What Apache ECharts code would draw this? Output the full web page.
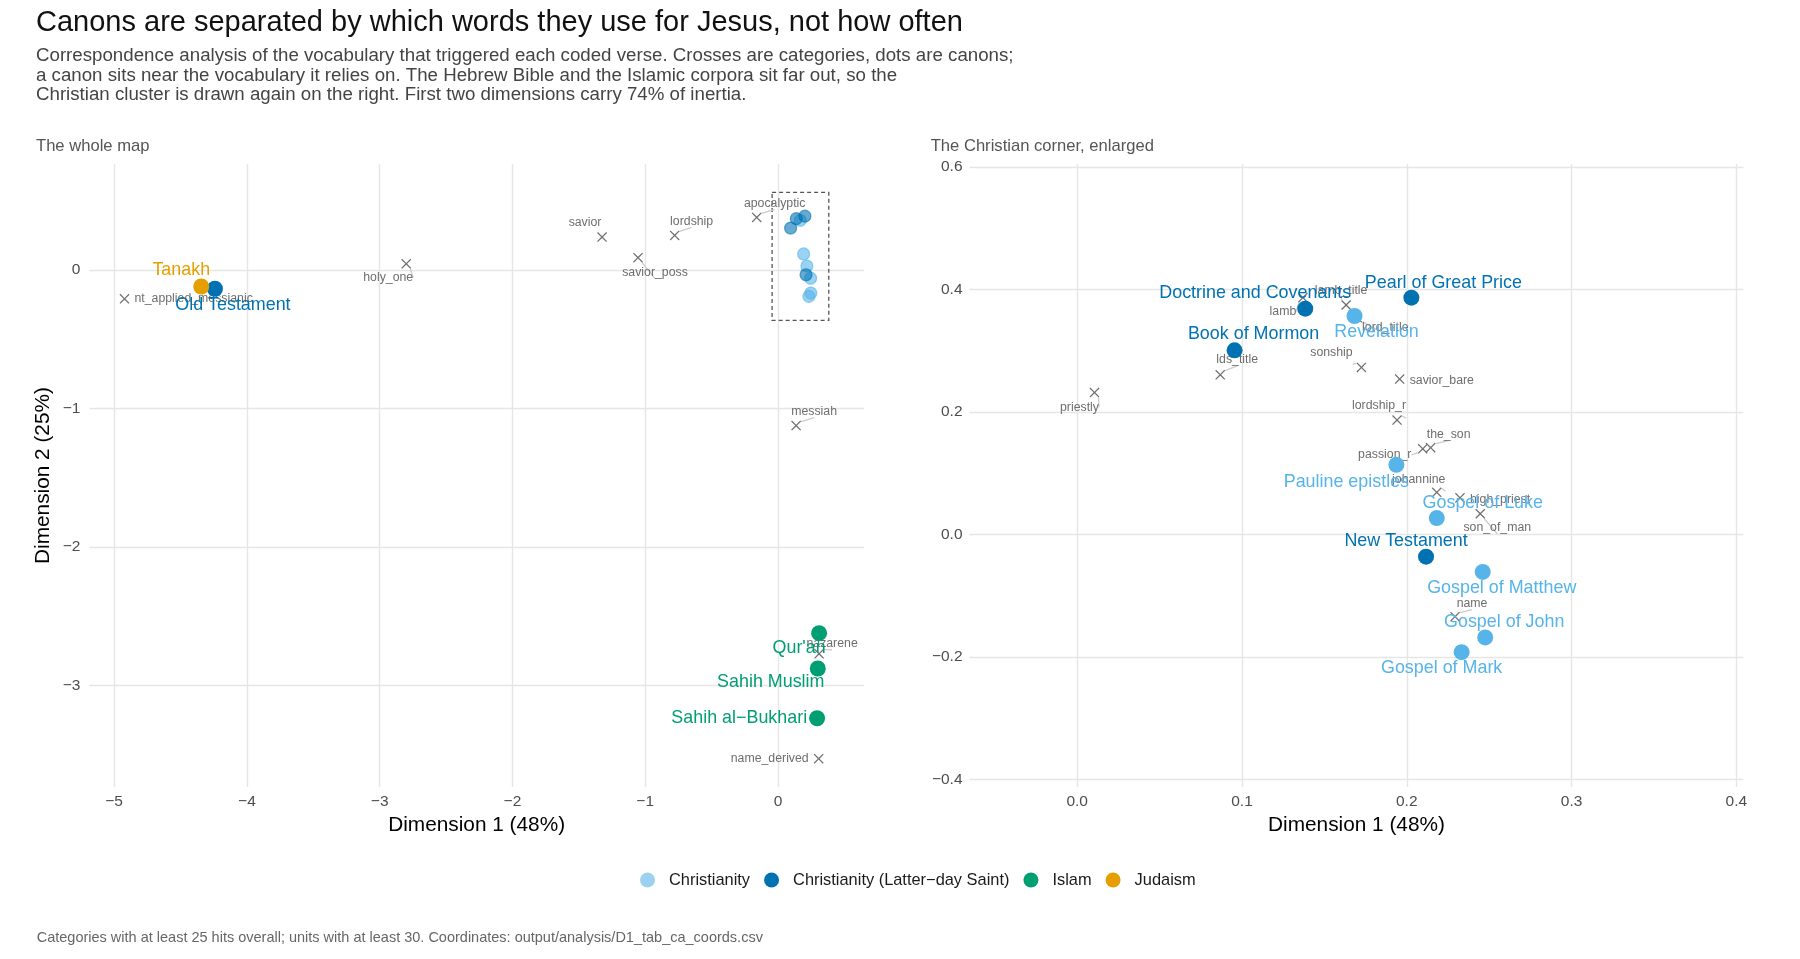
<!DOCTYPE html>
<html>
<head>
<meta charset="utf-8">
<title>Canons are separated by which words they use for Jesus</title>
<script src="https://cdn.jsdelivr.net/npm/echarts@6/dist/echarts.min.js"></script>
<style>
html, body { margin: 0; padding: 0; background: #fff; }
#chart { width: 1800px; height: 959px; }
</style>
</head>
<body>
<div id="chart"></div>
<script>
var FONT = '"Liberation Sans", Arial, Helvetica, sans-serif';

// canons (dots)
var canonNames = ['Tanakh', 'Old Testament', "Qur'an", 'Sahih Muslim', 'Sahih al\u2212Bukhari',
    'Pearl of Great Price', 'Doctrine and Covenants', 'Revelation', 'Book of Mormon',
    'Pauline epistles', 'Gospel of Luke', 'New Testament', 'Gospel of Matthew',
    'Gospel of John', 'Gospel of Mark'];
var canonGroups = ['Judaism', 'Christianity (Latter\u2212day Saint)', 'Islam', 'Islam', 'Islam',
    'Christianity (Latter\u2212day Saint)', 'Christianity (Latter\u2212day Saint)', 'Christianity',
    'Christianity (Latter\u2212day Saint)', 'Christianity', 'Christianity',
    'Christianity (Latter\u2212day Saint)', 'Christianity', 'Christianity', 'Christianity'];
var canonDim1 = [-4.344, -4.241, 0.310, 0.300, 0.295, 0.2028, 0.1384, 0.1683, 0.0955,
    0.1937, 0.2182, 0.2117, 0.2461, 0.2476, 0.2333];
var canonDim2 = [-0.121, -0.137, -2.623, -2.878, -3.237, 0.387, 0.369, 0.357, 0.301,
    0.114, 0.027, -0.036, -0.061, -0.168, -0.192];

// vocabulary categories (crosses)
var catNames = ['nt_applied_messianic', 'holy_one', 'savior', 'savior_poss', 'lordship',
    'apocalyptic', 'messiah', 'nazarene', 'name_derived',
    'lamb_title', 'lamb', 'lord_title', 'lds_title', 'sonship', 'savior_bare', 'priestly',
    'lordship_r', 'passion_r', 'the_son', 'johannine', 'high_priest', 'son_of_man', 'name'];
var catDim1 = [-4.922, -2.80, -1.325, -1.054, -0.778, -0.160, 0.137, 0.310, 0.307,
    0.1632, 0.137, 0.170, 0.0868, 0.1725, 0.1957, 0.0105,
    0.1941, 0.2097, 0.2145, 0.2182, 0.2323, 0.2446, 0.2293];
var catDim2 = [-0.210, 0.043, 0.236, 0.087, 0.248, 0.378, -1.125, -2.772, -3.529,
    0.375, 0.387, 0.354, 0.261, 0.273, 0.254, 0.232,
    0.187, 0.140, 0.142, 0.069, 0.060, 0.034, -0.134];

var groupNames = ['Christianity', 'Christianity (Latter\u2212day Saint)', 'Islam', 'Judaism'];
var groupColors = ['#56B4E9', '#0072B2', '#009E73', '#E69F00'];

// the Christian corner, dashed on the left and enlarged on the right
var cornerX = [-0.044, 0.383];
var cornerY = [-0.366, 0.559];

// where each label sits relative to its mark (px): [dx, dy] centred, or ['left'|'right', gap, dy]
var labelPlace = {
    'Tanakh': [-20, -16], 'Old Testament': [18, 16], "Qur'an": [-20, 15],
    'Sahih Muslim': [-47, 14], 'Sahih al\u2212Bukhari': ['left', 2, 0],
    'Pearl of Great Price': [32, -15], 'Doctrine and Covenants': [-50, -16],
    'Revelation': [22, 16], 'Book of Mormon': [19, -16], 'Pauline epistles': [-50, 17],
    'Gospel of Luke': [46, -15], 'New Testament': [-20, -16], 'Gospel of Matthew': [19, 16],
    'Gospel of John': [19, -15], 'Gospel of Mark': [-20, 16],
    'nt_applied_messianic': ['right', 5, 0], 'holy_one': [-18, 14], 'savior': [-17, -14],
    'savior_poss': [17, 15], 'lordship': [17, -14], 'apocalyptic': [18, -14],
    'messiah': [18, -14], 'nazarene': [13, -10], 'name_derived': ['left', 5, 0],
    'lamb_title': [-5, -14], 'lamb': [-20, 14], 'lord_title': [28, 10],
    'lds_title': [17, -15], 'sonship': [-30, -15], 'savior_bare': ['right', 5, 2],
    'priestly': [-15, 15], 'lordship_r': [-18, -14], 'passion_r': [-38, 6],
    'the_son': [18, -13], 'johannine': [-18, -13], 'high_priest': ['right', 5, 2],
    'son_of_man': [17, 14], 'name': [17, -13]
};

var CROSS = 'path://M0,0.9L0.9,0L5,4.1L9.1,0L10,0.9L5.9,5L10,9.1L9.1,10L5,5.9L0.9,10L0,9.1L4.1,5Z';

function inCorner(x, y) {
    return x >= cornerX[0] && x <= cornerX[1] && y >= cornerY[0] && y <= cornerY[1];
}
function expand(lo, hi) {
    var pad = (hi - lo) * 0.05;
    return [lo - pad, hi + pad];
}
function labelOf(name, size, color) {
    var p = labelPlace[name];
    var lab = { show: true, formatter: '{b}', fontSize: size, color: color, fontFamily: FONT };
    if (p[0] === 'left' || p[0] === 'right') {
        lab.position = p[0];
        lab.distance = p[1];
        lab.offset = [0, p[2]];
    } else {
        lab.position = 'inside';
        lab.offset = p;
    }
    return lab;
}
function tickFmt(dec) {
    return function (v) {
        var s = Math.abs(v).toFixed(dec);
        return (v < -1e-9 ? '\u2212' : '') + s;
    };
}

// limits: the whole map spans all marks plus the corner box, the right panel just the box
var leftX = expand(Math.min.apply(null, catDim1.concat(canonDim1, cornerX)),
    Math.max.apply(null, catDim1.concat(canonDim1, cornerX)));
var leftY = expand(Math.min.apply(null, catDim2.concat(canonDim2, cornerY)),
    Math.max.apply(null, catDim2.concat(canonDim2, cornerY)));
var rightX = expand(cornerX[0], cornerX[1]);
var rightY = expand(cornerY[0], cornerY[1]);

// repel-style leader from a cross to its label
var leader = { show: true, length2: 0, lineStyle: { color: '#cccccc', width: 1.3 } };

var crossLeft = [], crossRight = [];
for (var i = 0; i < catNames.length; i++) {
    var item = { name: catNames[i], value: [catDim1[i], catDim2[i]],
        label: labelOf(catNames[i], 12.3, '#6e6e6e') };
    if (typeof labelPlace[catNames[i]][0] === 'number') item.labelLine = leader;
    if (inCorner(catDim1[i], catDim2[i])) crossRight.push(item);
    else crossLeft.push(item);
}

var series = [];
var crossStyle = { color: '#707070', opacity: 1 };
series.push({
    type: 'scatter', name: 'categories', xAxisIndex: 0, yAxisIndex: 0,
    symbol: CROSS, symbolSize: 10, itemStyle: crossStyle, z: 2,
    data: crossLeft,
    markArea: {
        silent: true,
        label: { show: false },
        itemStyle: { color: 'rgba(0,0,0,0)', borderColor: '#555', borderWidth: 1.3, borderType: [4, 3] },
        data: [[{ coord: [cornerX[0], cornerY[1]] }, { coord: [cornerX[1], cornerY[0]] }]]
    }
});
series.push({
    type: 'scatter', name: 'categories2', xAxisIndex: 1, yAxisIndex: 1,
    symbol: CROSS, symbolSize: 10, itemStyle: crossStyle, z: 2,
    data: crossRight
});

groupNames.forEach(function (g, gi) {
    var col = groupColors[gi];
    var left = [], right = [];
    for (var i = 0; i < canonNames.length; i++) {
        if (canonGroups[i] !== g) continue;
        var x = canonDim1[i], y = canonDim2[i];
        if (inCorner(x, y)) {
            left.push({ name: canonNames[i], value: [x, y], symbolSize: 12,
                itemStyle: { color: col, opacity: 0.6, borderColor: col, borderWidth: 1.2 } });
            right.push({ name: canonNames[i], value: [x, y],
                label: labelOf(canonNames[i], 17.9, col) });
        } else {
            left.push({ name: canonNames[i], value: [x, y],
                label: labelOf(canonNames[i], 17.9, col) });
        }
    }
    series.push({
        type: 'scatter', name: g, xAxisIndex: 0, yAxisIndex: 0,
        symbol: 'circle', symbolSize: 16, itemStyle: { color: col, opacity: 1 }, z: 3,
        data: left
    });
    series.push({
        type: 'scatter', name: g, xAxisIndex: 1, yAxisIndex: 1,
        symbol: 'circle', symbolSize: 16, itemStyle: { color: col, opacity: 1 }, z: 3,
        data: right
    });
});

var gridLine = { show: true, showMinLine: false, showMaxLine: false,
    lineStyle: { color: '#e6e6e6', width: 1.4 } };
var tickText = { color: '#4d4d4d', fontSize: 15.5, fontFamily: FONT,
    showMinLabel: false, showMaxLabel: false };
var nameText = { color: '#000', fontSize: 20.8, fontFamily: FONT };

function valueAxis(idx, lim, step, dec, margin, extra) {
    var ax = {
        type: 'value', gridIndex: idx, min: lim[0], max: lim[1],
        minInterval: step, maxInterval: step,
        axisLine: { show: false }, axisTick: { show: false },
        splitLine: gridLine,
        axisLabel: Object.assign({ formatter: tickFmt(dec), margin: margin }, tickText)
    };
    return Object.assign(ax, extra || {});
}

var option = {
    backgroundColor: '#fff',
    animation: false,
    textStyle: { fontFamily: FONT },
    title: [
        { text: 'Canons are separated by which words they use for Jesus, not how often',
          left: 36, top: 8.5, padding: 0,
          textStyle: { fontSize: 29, fontWeight: 'normal', color: '#111', fontFamily: FONT } },
        { text: 'Correspondence analysis of the vocabulary that triggered each coded verse. Crosses are categories, dots are canons;\n' +
                'a canon sits near the vocabulary it relies on. The Hebrew Bible and the Islamic corpora sit far out, so the\n' +
                'Christian cluster is drawn again on the right. First two dimensions carry 74% of inertia.',
          left: 36, top: 46.5, padding: 0,
          textStyle: { fontSize: 18.7, lineHeight: 19.4, fontWeight: 'normal', color: '#444', fontFamily: FONT } },
        { text: 'The whole map', left: 36, top: 138, padding: 0,
          textStyle: { fontSize: 16.6, fontWeight: 'normal', color: '#555', fontFamily: FONT } },
        { text: 'The Christian corner, enlarged', left: 930.7, top: 138, padding: 0,
          textStyle: { fontSize: 16.6, fontWeight: 'normal', color: '#555', fontFamily: FONT } },
        { text: 'Categories with at least 25 hits overall; units with at least 30. Coordinates: output/analysis/D1_tab_ca_coords.csv',
          left: 36.7, top: 930.5, padding: 0,
          textStyle: { fontSize: 14.5, fontWeight: 'normal', color: '#666', fontFamily: FONT } }
    ],
    legend: {
        left: 640, top: 872, padding: 0,
        icon: 'circle', itemWidth: 15, itemHeight: 15, itemGap: 14,
        textStyle: { fontSize: 16.4, color: '#1a1a1a', fontFamily: FONT, padding: [0, 0, 0, 9] },
        data: [
            { name: groupNames[0], itemStyle: { color: '#9cd1f1', opacity: 1, borderWidth: 0 } },
            { name: groupNames[1], itemStyle: { color: groupColors[1], opacity: 1, borderWidth: 0 } },
            { name: groupNames[2], itemStyle: { color: groupColors[2], opacity: 1 } },
            { name: groupNames[3], itemStyle: { color: groupColors[3], opacity: 1 } }
        ]
    },
    grid: [
        { left: 89.3, top: 164, width: 774.7, height: 623 },
        { left: 969.5, top: 164, width: 774, height: 623 }
    ],
    xAxis: [
        valueAxis(0, leftX, 1, 0, 7, { name: 'Dimension 1 (48%)', nameLocation: 'middle', nameGap: 26,
            nameTextStyle: nameText }),
        valueAxis(1, rightX, 0.1, 1, 7, { name: 'Dimension 1 (48%)', nameLocation: 'middle', nameGap: 26,
            nameTextStyle: nameText })
    ],
    yAxis: [
        valueAxis(0, leftY, 1, 0, 9, { name: 'Dimension 2 (25%)', nameLocation: 'middle', nameGap: 35.5,
            nameTextStyle: nameText }),
        valueAxis(1, rightY, 0.2, 1, 7)
    ],
    series: series
};

var myChart = echarts.init(document.getElementById('chart'));
myChart.setOption(option);
</script>
</body>
</html>
